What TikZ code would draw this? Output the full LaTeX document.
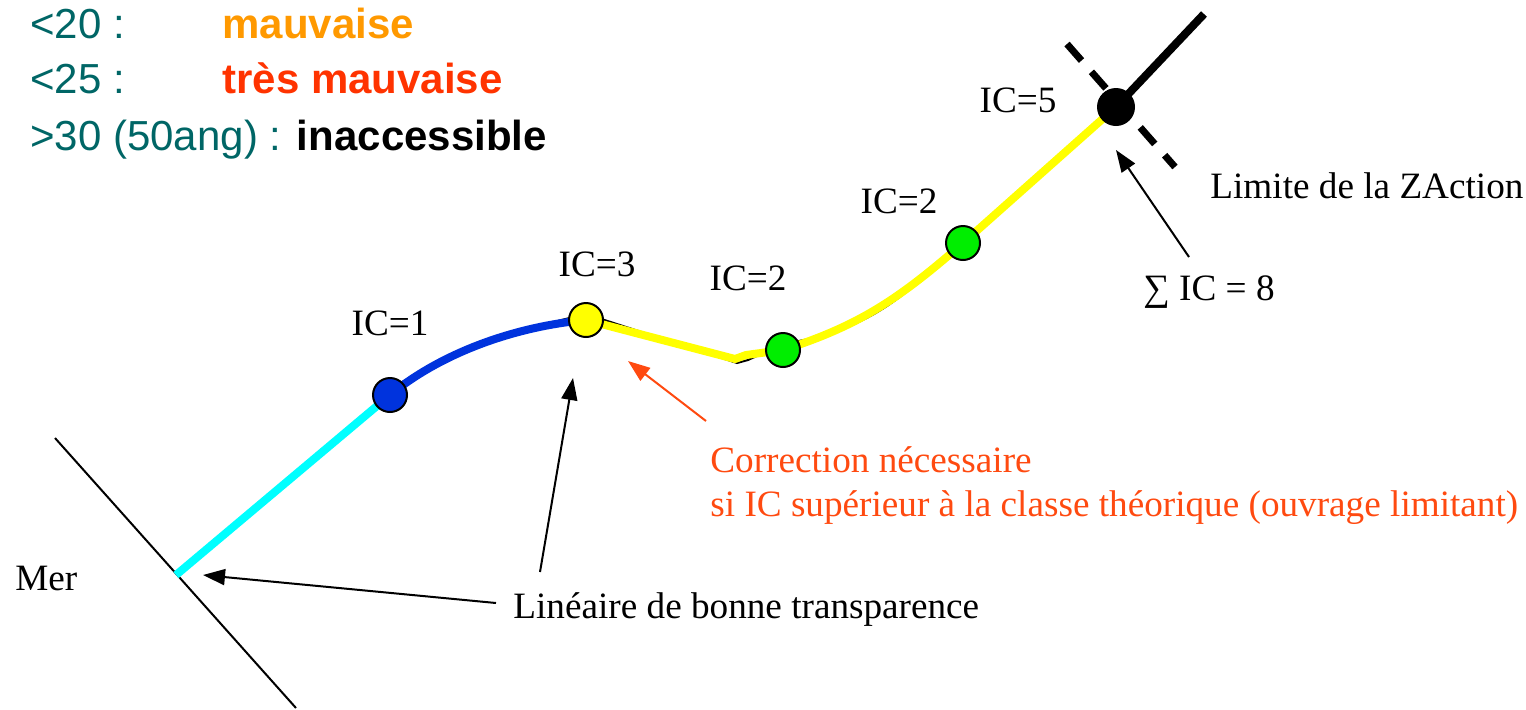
\documentclass[tikz,border=0pt]{standalone}
\usepackage{fontspec}
\setmainfont{Liberation Serif}
\newfontfamily\arialf{Liberation Sans}
\usetikzlibrary{arrows.meta}
\definecolor{tealtxt}{HTML}{006666}
\definecolor{orangetxt}{HTML}{FF9900}
\definecolor{redtxt}{HTML}{FF3300}
\definecolor{corr}{HTML}{FF4A10}
\definecolor{cyanl}{HTML}{00FFFF}
\definecolor{bluel}{HTML}{0033DD}
\definecolor{yell}{HTML}{FFFF00}
\definecolor{greenl}{HTML}{00EE00}
\tikzset{
  lbl/.style={font=\fontsize{18.6}{22}\selectfont, inner sep=0pt},
  leg/.style={font=\arialf\fontsize{21}{25}\selectfont, inner sep=0pt, anchor=base west},
  legb/.style={leg, font=\arialf\bfseries\fontsize{21}{25}\selectfont},
  dot/.style={circle, draw=black, line width=1pt, minimum size=17pt, inner sep=0pt},
  arr/.style={line width=1pt, -{Triangle[length=11pt,width=8pt]}},
  seg/.style={line width=4pt, line cap=butt},
}
\begin{document}
\begin{tikzpicture}[x=0.5pt,y=-0.5pt]
\useasboundingbox (0,0) rectangle (1526,709);
% legend
\node[leg, text=tealtxt] (l1) at (30,38) {<20 :};
\node[legb, text=orangetxt] (l1b) at (222,38) {mauvaise};
\node[leg, text=tealtxt] (l2) at (30,93) {<25 :};
\node[legb, text=redtxt] (l2b) at (222,93) {très mauvaise};
\node[leg, text=tealtxt] (l3) at (30,150) {>30 (50ang) : \textcolor{black}{\bfseries inaccessible}};
% coast line
\coordinate (c1) at (55,438);
\coordinate (c2) at (296,708);
\draw[line width=1pt] (c1) -- (c2);
% path
\coordinate (p0) at (176,575);
\coordinate (pB) at (390,395);
\coordinate (pY) at (586,320);
\coordinate (pG1) at (783,350);
\coordinate (pG2) at (963,243);
\coordinate (pK) at (1116,107);
\coordinate (pE) at (1204,14);
\draw[seg, cyanl] (p0) -- (pB);
\draw[line width=1pt, black] ([yshift=3pt]pB) .. controls (445,356) and (520,329) .. ([yshift=3pt]pY);
\draw[seg, bluel] (pB) .. controls (445,350) and (520,326) .. (pY);
\draw[line width=1pt, black] ([yshift=3pt]pY) -- (737,363) -- (748,360) -- ([yshift=3pt]pG1) .. controls (860,331) and (900,306) .. ([yshift=3pt]pG2);
\draw[seg, yell, line join=round] (pY) -- (735,359) -- (746,355) -- (pG1) .. controls (858,326) and (898,300) .. (pG2) -- (pK);
\draw[seg, black] (pK) -- (pE);
\coordinate (d1) at (1067,44);
\coordinate (d2) at (1175,167);
\draw[line width=3.5pt, dash pattern=on 11pt off 7.5pt] (d1) -- (d2);
% dots
\node[dot, fill=bluel] (dB) at (pB) {};
\node[dot, fill=yell] (dY) at (pY) {};
\node[dot, fill=greenl] (dG1) at (pG1) {};
\node[dot, fill=greenl] (dG2) at (pG2) {};
\node[dot, fill=black, minimum size=18pt] (dK) at (pK) {};
% labels
\node[lbl] (ic1) at (390,323) {IC=1};
\node[lbl] (ic3) at (597,264) {IC=3};
\node[lbl] (ic2a) at (748,278) {IC=2};
\node[lbl] (ic2b) at (899,201) {IC=2};
\node[lbl] (ic5) at (1018,100) {IC=5};
\node[lbl, anchor=west] (lim) at (1210,186) {Limite de la ZAction};
\node[lbl, anchor=west] (sum) at (1143,292) {∑ IC = 8};
\node[lbl, anchor=west] (mer) at (15,578) {Mer};
\node[lbl, anchor=west] (lin) at (513,610) {Linéaire de bonne transparence};
\node[lbl, anchor=west, text=corr] (cor1) at (710,460) {Correction nécessaire};
\node[lbl, anchor=west, text=corr] (cor2) at (710,508) {si IC supérieur à la classe théorique (ouvrage limitant)};
% arrows
\coordinate (a1s) at (496,603);
\coordinate (a1e) at (203,575);
\coordinate (a2s) at (540,572);
\coordinate (a2e) at (573,378);
\coordinate (a3s) at (706,421);
\coordinate (a3e) at (628,361);
\coordinate (a4s) at (1189,257);
\coordinate (a4e) at (1116,150);
\draw[arr] (a1s) -- (a1e);
\draw[arr] (a2s) -- (a2e);
\draw[arr, corr] (a3s) -- (a3e);
\draw[arr] (a4s) -- (a4e);
\end{tikzpicture}
\end{document}
